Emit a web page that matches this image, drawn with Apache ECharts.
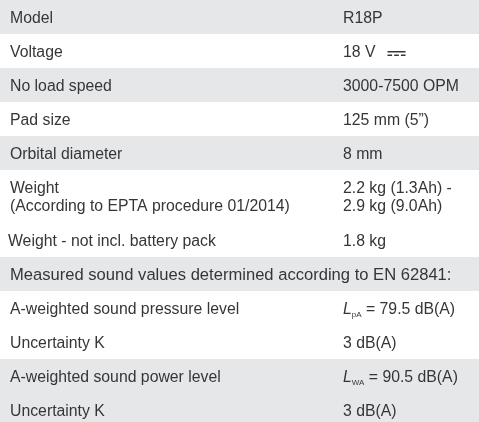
<!DOCTYPE html>
<html>
<head>
<meta charset="utf-8">
<script src="https://cdn.jsdelivr.net/npm/echarts@6/dist/echarts.min.js"></script>
<style>
html,body{margin:0;padding:0;background:#fff;}
#chart{width:479px;height:422px;}
</style>
</head>
<body>
<div id="chart"></div>
<script>
// ---- table content ----
var labels = [
  'Model',
  'Voltage',
  'No load speed',
  'Pad size',
  'Orbital diameter',
  'Weight\n(According to EPTA procedure 01/2014)',
  'Weight - not incl. battery pack',
  'Measured sound values determined according to EN 62841:',
  'A-weighted sound pressure level',
  'Uncertainty K',
  'A-weighted sound power level',
  'Uncertainty K'
];
var values = [
  'R18P',
  '18 V \u2393',
  '3000-7500 OPM',
  '125 mm (5\u201D)',
  '8 mm',
  '2.2 kg (1.3Ah) -\n2.9 kg (9.0Ah)',
  '1.8 kg',
  '',
  'L_pA = 79.5 dB(A)',
  '3 dB(A)',
  'L_WA = 90.5 dB(A)',
  '3 dB(A)'
];
var shaded = [1, 0, 1, 0, 1, 0, 0, 1, 0, 0, 1, 1];
var labelIndent = [0, 0, 0, 0, 0, 0, -2, 0, 0, 0, 0, 0];
var labelScale = [1, 1, 1, 1, 1, 1, 1, 1.05, 1, 1, 1, 1];

// ---- styling / layout ----
var W = 479, H = 422;
var FONT_FAMILY = '"Liberation Sans", Arial, Helvetica, sans-serif';
var FS = 15.8;
var TEXT_COLOR = '#363636';
var BAND_COLOR = '#e6e7e8';
var ROW_H = 34, LINE_H = 18;
var LEFT_X = 10, RIGHT_X = 343;

// compute row extents from line counts
var rows = [];
var cur = 0;
for (var i = 0; i < labels.length; i++) {
  var nLines = Math.max(labels[i].split('\n').length, values[i].split('\n').length);
  var h = ROW_H + (nLines - 1) * (LINE_H + 1);
  rows.push([i, cur, cur + h]);
  cur += h;
}

var measureCtx = document.createElement('canvas').getContext('2d');
function textWidth(t, size) {
  measureCtx.font = size + 'px ' + FONT_FAMILY;
  return measureCtx.measureText(t).width;
}

function renderItem(params, api) {
  var idx = api.value(0);
  var p0 = api.coord([0, api.value(1)]);
  var p1 = api.coord([W, api.value(2)]);
  var top = p0[1], bottom = p1[1];
  var cy = (top + bottom) / 2 + 1.5;
  var children = [];
  if (shaded[idx]) {
    children.push({
      type: 'rect',
      shape: {x: p0[0], y: top, width: p1[0] - p0[0], height: bottom - top},
      style: {fill: BAND_COLOR}
    });
  }
  var xL = api.coord([LEFT_X + labelIndent[idx], 0])[0];
  var xR = api.coord([RIGHT_X, 0])[0];
  children.push({
    type: 'text',
    style: {
      x: xL, y: cy, text: labels[idx],
      fill: TEXT_COLOR, fontSize: FS * labelScale[idx], fontFamily: FONT_FAMILY,
      lineHeight: LINE_H, align: 'left', verticalAlign: 'middle'
    }
  });
  var v = values[idx];
  if (v) {
    var m = /^L_(\w+)(.*)$/.exec(v);
    if (m) {
      children.push({
        type: 'text',
        style: {
          x: xR, y: cy,
          text: '{l|L}{s|' + m[1] + '}{n|' + m[2] + '}',
          fill: TEXT_COLOR, fontFamily: FONT_FAMILY, fontSize: FS,
          align: 'left', verticalAlign: 'middle',
          rich: {
            l: {fontStyle: 'italic', fontSize: FS, fontFamily: FONT_FAMILY, fill: TEXT_COLOR, lineHeight: LINE_H},
            s: {fontSize: 8, fontFamily: FONT_FAMILY, fill: TEXT_COLOR, lineHeight: LINE_H, verticalAlign: 'bottom'},
            n: {fontSize: FS, fontFamily: FONT_FAMILY, fill: TEXT_COLOR, lineHeight: LINE_H}
          }
        }
      });
    } else {
      var dc = v.indexOf('\u2393') >= 0;
      var t = dc ? v.replace(/\s*\u2393/, '') : v;
      children.push({
        type: 'text',
        style: {
          x: xR, y: cy, text: t,
          fill: TEXT_COLOR, fontSize: FS, fontFamily: FONT_FAMILY,
          lineHeight: LINE_H, align: 'left', verticalAlign: 'middle'
        }
      });
      if (dc) {
        var sx = xR + textWidth(t, FS) + 12;
        var sw = 18;
        children.push({
          type: 'rect',
          shape: {x: sx, y: cy - 1.5, width: sw, height: 1.5},
          style: {fill: TEXT_COLOR}
        });
        var dw = 4.6, gap = (sw - 3 * dw) / 2;
        for (var k = 0; k < 3; k++) {
          children.push({
            type: 'rect',
            shape: {x: sx + k * (dw + gap), y: cy + 2, width: dw, height: 1.5},
            style: {fill: TEXT_COLOR}
          });
        }
      }
    }
  }
  return {type: 'group', children: children};
}

var chart = echarts.init(document.getElementById('chart'), null, {renderer: 'canvas'});
chart.setOption({
  animation: false,
  backgroundColor: '#ffffff',
  grid: {left: 0, right: 0, top: 0, bottom: 0},
  xAxis: {type: 'value', min: 0, max: W, show: false},
  yAxis: {type: 'value', min: 0, max: H, inverse: true, show: false},
  series: [{
    type: 'custom',
    renderItem: renderItem,
    clip: true,
    data: rows
  }]
});
</script>
</body>
</html>
